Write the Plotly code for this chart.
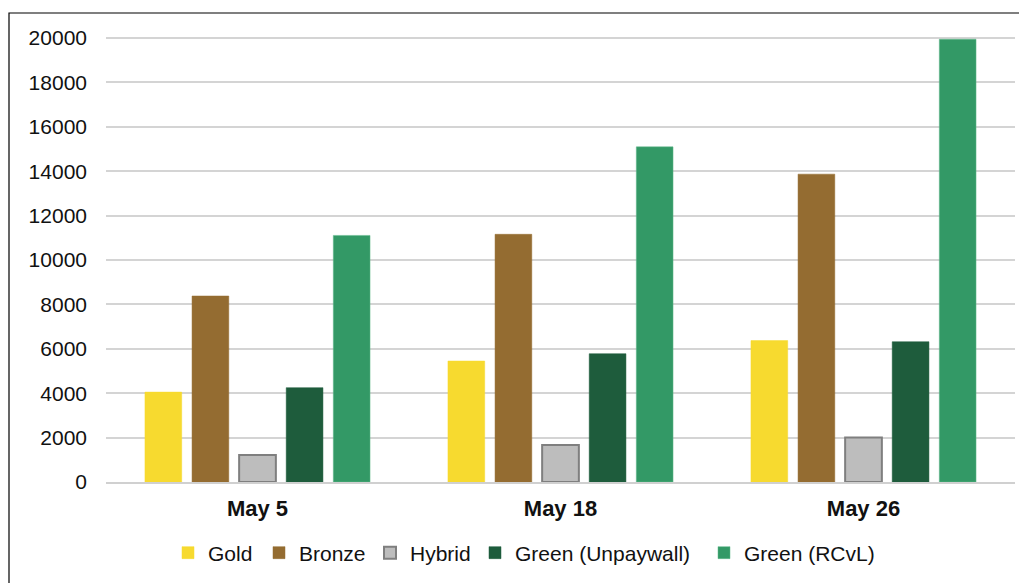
import plotly.graph_objects as go

categories = ["May 5", "May 18", "May 26"]
series_names = ["Gold", "Bronze", "Hybrid", "Green (Unpaywall)", "Green (RCvL)"]
gold = [4050, 5450, 6370]
bronze = [8380, 11160, 13870]
hybrid = [1220, 1670, 2000]
green_unpaywall = [4250, 5780, 6320]
green_rcvl = [11110, 15100, 19950]
y_ticks = [0, 2000, 4000, 6000, 8000, 10000, 12000, 14000, 16000, 18000, 20000]

values = [gold, bronze, hybrid, green_unpaywall, green_rcvl]
fills = ["#F7DA2F", "#946C31", "#BDBDBD", "#1E5C3C", "#339966"]
lines = ["#F7DA2F", "#946C31", "#7F7F7F", "#1E5C3C", "#5FB88A"]
line_w = [0.5, 0.5, 2, 0.5, 0.5]
legend_marker_px = [188, 279, 390, 495, 724]

W, H = 1019, 583
L, R, T, B = 106, 4, 27, 101
pw, ph = W - L - R, H - T - B

def px_to_paper(x, y):
    return (x - L) / pw, (H - B - y) / ph

fig = go.Figure()
legends = {}
for i, (name, v, f, lc, lw, mx) in enumerate(zip(series_names, values, fills, lines, line_w, legend_marker_px)):
    key = "legend" if i == 0 else f"legend{i+1}"
    fig.add_trace(go.Bar(x=categories, y=v, name=name, legend=key,
                         marker=dict(color=f, line=dict(color=lc, width=lw))))
    lx, ly = px_to_paper(mx - 20, 553)
    legends[key] = dict(x=lx, xanchor="left", y=ly, yanchor="middle", orientation="h",
                        font=dict(size=21, color="#111111"), bgcolor="rgba(0,0,0,0)",
                        itemwidth=30)

x0, y0 = px_to_paper(9, 600)
x1, y1 = px_to_paper(1040, 13)
fig.add_shape(type="rect", xref="paper", yref="paper", x0=x0, y0=y0, x1=x1, y1=y1,
              line=dict(color="#000000", width=1.2), fillcolor="rgba(0,0,0,0)", layer="below")

fig.update_layout(
    width=W, height=H,
    margin=dict(l=L, r=R, t=T, b=B),
    paper_bgcolor="white", plot_bgcolor="white",
    barmode="group", bargap=0.223, bargroupgap=0.22,
    font=dict(family="Arial, Liberation Sans, sans-serif", size=20, color="#111111"),
    showlegend=True,
    xaxis=dict(tickfont=dict(size=22, family="Arial, Liberation Sans, sans-serif", color="#111111"),
               tickprefix="<b>", ticksuffix="</b>", showline=True, linecolor="#D0D0D0", linewidth=1.5,
               ticks="", ticklabelstandoff=6),
    yaxis=dict(range=[0, 20500], tickvals=y_ticks, tickformat="d", showgrid=True,
               gridcolor="#D4D4D4", gridwidth=1.5, zeroline=False,
               tickfont=dict(size=21), ticklabelstandoff=18),
    **legends,
)

fig.write_html("out.html", config={"displayModeBar": False},
               post_script="document.body.style.margin='0';document.body.style.overflow='hidden';")
